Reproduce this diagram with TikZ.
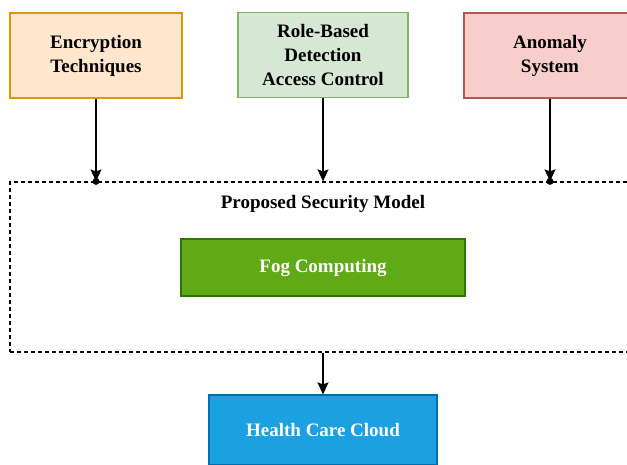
\documentclass[tikz,border=0pt]{standalone}
\usepackage{fontspec}
\setmainfont{Liberation Serif}
\usepackage{tikz}
\usetikzlibrary{arrows.meta,positioning}
\usepackage{xcolor}

\definecolor{encfill}{HTML}{FFE6CC}
\definecolor{encline}{HTML}{D79B00}
\definecolor{rolefill}{HTML}{D5E8D4}
\definecolor{roleline}{HTML}{82B366}
\definecolor{anomfill}{HTML}{F8CECC}
\definecolor{anomline}{HTML}{B85450}
\definecolor{fogfill}{HTML}{60A917}
\definecolor{fogline}{HTML}{2D7600}
\definecolor{cloudfill}{HTML}{1BA1E2}
\definecolor{cloudline}{HTML}{006EAF}

\tikzset{
  label font/.style={font=\fontsize{19}{24}\selectfont\bfseries},
  topbox/.style={draw, line width=1.2pt, minimum width=172pt, minimum height=85pt,
    align=center, label font},
  solidbox/.style={draw, line width=1.2pt, text=white, align=center, label font},
  feed/.style={line width=1.3pt, -{Stealth[length=12pt,width=11pt,inset=2pt]}},
}

\begin{document}
\begin{tikzpicture}[x=1pt,y=-1pt]
  \clip (0,0) rectangle (627,464);

  %% the three inputs along the top
  \node[topbox, fill=encfill, draw=encline] (enc) at (96,55.5) {Encryption\\Techniques};
  \node[topbox, fill=rolefill, draw=roleline, minimum width=170pt] (rbac) at (323,55)
    {Role-Based\\Detection\\Access Control};
  \node[topbox, fill=anomfill, draw=anomline] (anom) at (550,55.5) {Anomaly\\System};

  %% dashed frame of the model
  \node[draw, line width=1.3pt, dash pattern=on 4pt off 3pt,
    minimum width=626pt, minimum height=170pt, inner sep=0pt] (model) at (323,267) {};
  \node[label font] (title) at (323,204) {Proposed Security Model};

  \node[solidbox, fill=fogfill, draw=fogline, minimum width=284pt, minimum height=57pt]
    (fog) at (323,267.5) {Fog Computing};

  \node[solidbox, fill=cloudfill, draw=cloudline, minimum width=228pt, minimum height=70pt]
    (cloud) at (323,430) {Health Care Cloud};

  %% inputs feeding the model
  \coordinate (encin) at (enc.south |- model.north);
  \coordinate (anomin) at (anom.south |- model.north);
  \draw[feed] (enc.south) -- (encin);
  \draw[feed] (rbac.south) -- (rbac.south |- model.north);
  \draw[feed] (anom.south) -- (anomin);
  \fill (encin) circle (3.5pt);
  \fill (anomin) circle (3.5pt);

  %% model down to the cloud
  \draw[feed] (model.south) -- (cloud.north);
\end{tikzpicture}
\end{document}
